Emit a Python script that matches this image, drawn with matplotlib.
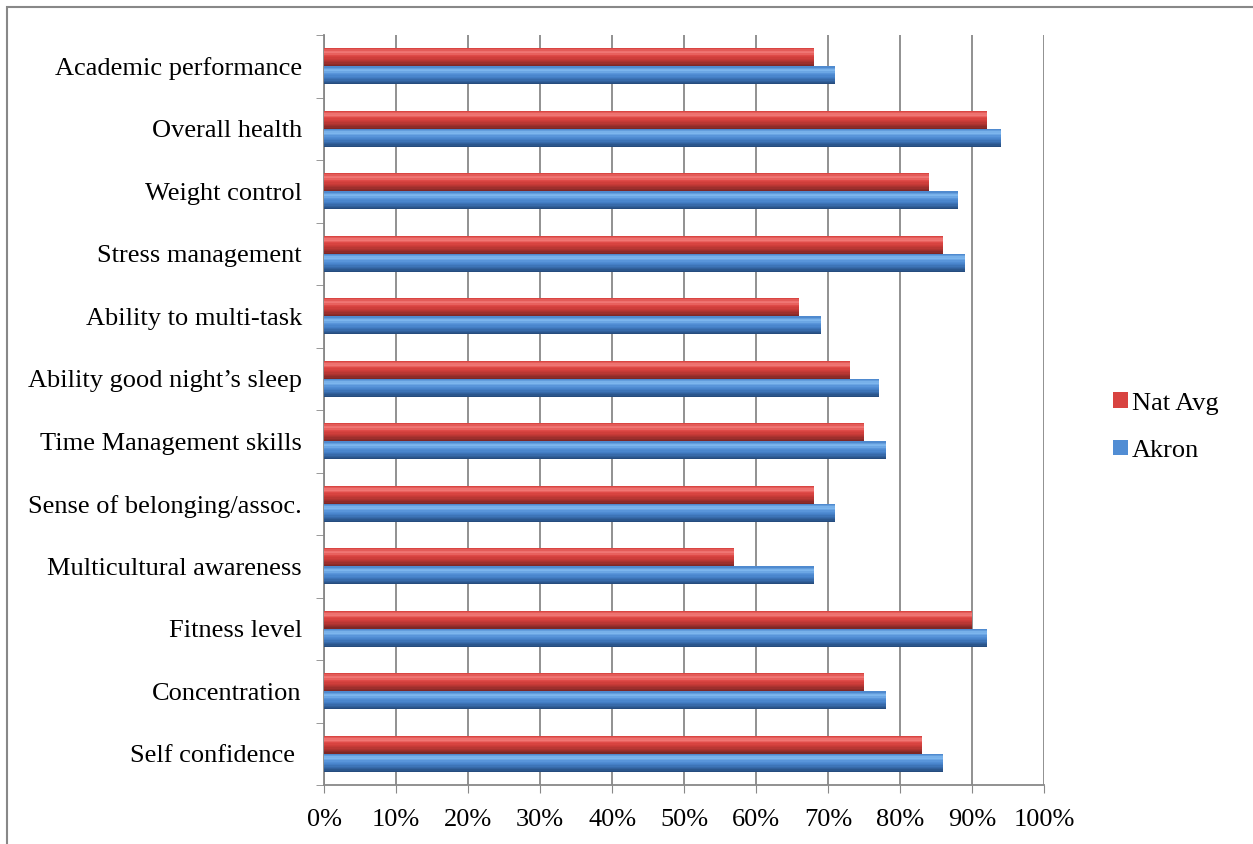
import numpy as np
import matplotlib.pyplot as plt
from matplotlib.colors import LinearSegmentedColormap
from matplotlib.patches import Rectangle

plt.rcParams['font.family'] = ['Liberation Serif', 'DejaVu Serif']

categories = ['Self confidence ', 'Concentration', 'Fitness level',
              'Multicultural awareness', 'Sense of belonging/assoc.',
              'Time Management skills', 'Ability good night\u2019s sleep',
              'Ability to multi-task', 'Stress management', 'Weight control',
              'Overall health', 'Academic performance']
akron = [86, 78, 92, 68, 71, 78, 77, 69, 89, 88, 94, 71]
nat_avg = [83, 75, 90, 57, 68, 75, 73, 66, 86, 84, 92, 68]
xticks = [0, 10, 20, 30, 40, 50, 60, 70, 80, 90, 100]

red_shades = ['#7E2725', '#A7322F', '#C93B38', '#DD4643', '#F47F7D', '#D94542']
blue_shades = ['#264C7E', '#3466A4', '#4580C8', '#5592D8', '#84BDF2', '#4F8ACF']


def bevel_bar(ax, y, vals, h, shades, label):
    # stack thin strips bottom -> top to fake the bevelled 3D bar
    cmap = LinearSegmentedColormap.from_list('b', shades)
    n = 14
    ax.barh(y, vals, height=h, color=cmap(0.55), label=label, zorder=3)
    for i in range(n):
        off = -h / 2 + (i + 0.5) * h / n
        ax.barh(y + off, vals, height=h / n * 1.05, color=cmap(i / (n - 1)),
                linewidth=0, zorder=4)


fig = plt.figure(figsize=(12.53, 8.44), dpi=100)
ax = fig.add_axes([0.2586, 0.0699, 0.5747, 0.8886])

y = np.arange(len(categories))
h = 0.29
bevel_bar(ax, y + h / 2, nat_avg, h, red_shades, 'Nat Avg')
bevel_bar(ax, y - h / 2, akron, h, blue_shades, 'Akron')

ax.set_xlim(0, 100)
ax.set_ylim(-0.5, len(categories) - 0.5)
ax.set_xticks(xticks)
ax.set_xticklabels([f'{v}%' for v in xticks], fontsize=19)
ax.set_yticks(y)
ax.set_yticklabels(categories, fontsize=19)
ax.set_yticks(np.arange(-0.5, len(categories), 1), minor=True)
ax.tick_params(axis='y', which='major', length=0, pad=16)
ax.tick_params(axis='y', which='minor', length=6, color='#888888')
ax.tick_params(axis='x', length=6, color='#888888', pad=11)
ax.grid(axis='x', color='#888888', linewidth=1.3, zorder=0)
ax.set_axisbelow(True)
for s in ['top', 'right']:
    ax.spines[s].set_visible(False)
for s in ['left', 'bottom']:
    ax.spines[s].set_color('#888888')
    ax.spines[s].set_linewidth(1.3)

handles, labels = ax.get_legend_handles_labels()
fig.legend(handles, labels, loc='center left', bbox_to_anchor=(0.878, 0.494),
           frameon=False, fontsize=19, handlelength=0.55, handleheight=0.55,
           handletextpad=0.15, labelspacing=0.95, borderpad=0)

# outer chart frame (cropped at right and bottom)
fig.patches.append(Rectangle((7 / 1253, -0.1), 1.2, 1.1 - 7 / 844,
                             transform=fig.transFigure, fill=False,
                             edgecolor='#888888', linewidth=1.5))

fig.savefig('out.png', dpi=100)
